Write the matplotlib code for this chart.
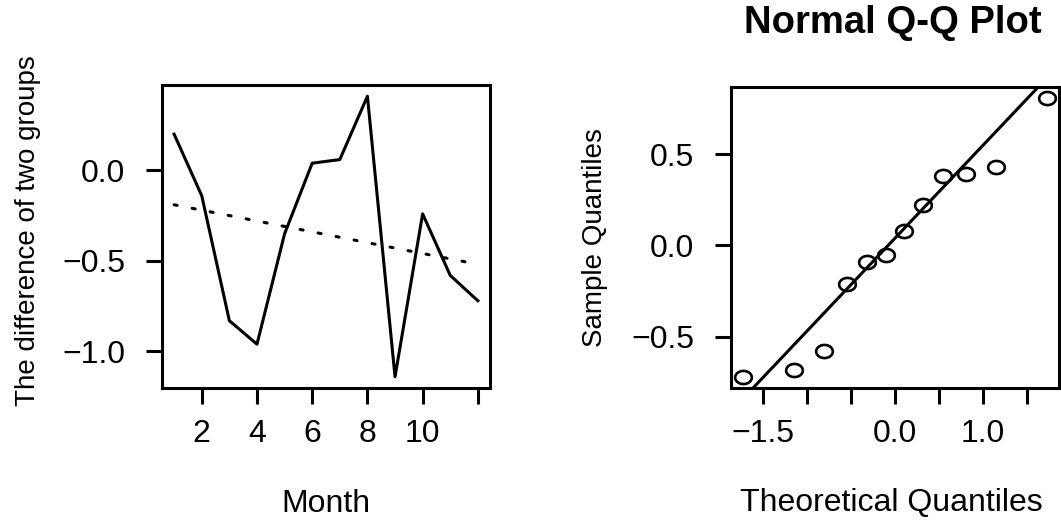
import numpy as np
import matplotlib
matplotlib.use("Agg")
import matplotlib.pyplot as plt
from matplotlib.path import Path
from statistics import NormalDist

plt.rcParams["font.family"] = ["Liberation Sans", "DejaVu Sans"]

# Monthly difference between the two groups
months = np.arange(1, 13)
difference = [0.20, -0.14, -0.83, -0.96, -0.35, 0.04, 0.06, 0.41, -1.14, -0.24, -0.58, -0.72]

# Normal Q-Q plot of the residuals from the linear trend
theoretical_q = [-1.73, -1.15, -0.81, -0.55, -0.32, -0.10, 0.10, 0.32, 0.55, 0.81, 1.15, 1.73]
sample_q = [-0.72, -0.68, -0.58, -0.21, -0.09, -0.05, 0.08, 0.22, 0.38, 0.39, 0.43, 0.81]

month_ticks = [2, 4, 6, 8, 10, 12]
month_labels = ["2", "4", "6", "8", "10", ""]
diff_ticks = [-1.0, -0.5, 0.0]
tq_ticks = [-1.5, -1.0, -0.5, 0.0, 0.5, 1.0, 1.5]
tq_labels = ["\u22121.5", "", "", "0.0", "", "1.0", ""]
sq_ticks = [-0.5, 0.0, 0.5]

W, H = 1061, 520
fig = plt.figure(figsize=(W / 100, H / 100), dpi=100)

LW = 2.2
FS = 23      # horizontal text
FS_V = 20    # rotated axis titles


def style(ax):
    for s in ax.spines.values():
        s.set_linewidth(LW)
    ax.tick_params(direction="out", length=11.5, width=LW, labelsize=FS)
    ax.tick_params(axis="x", pad=11)
    ax.tick_params(axis="y", pad=15)
    ax.margins(0.04)


# Left panel: series with fitted trend
ax1 = fig.add_axes([162 / W, (H - 388) / H, 328 / W, 303 / H])
ax1.plot(months, difference, color="black", lw=LW)
slope, intercept = np.polyfit(months, difference, 1)
ax1.plot([months[0], months[-1]], [intercept + slope * months[0], intercept + slope * months[-1]],
         color="black", lw=LW, linestyle=(0, (1, 5)), dash_capstyle="round")
style(ax1)
ax1.set_xticks(month_ticks)
ax1.set_xticklabels(month_labels)
ax1.set_yticks(diff_ticks)
ax1.set_yticklabels(["\u22121.0", "\u22120.5", "0.0"])
ax1.set_xlabel("Month", fontsize=FS, va="center")
ax1.xaxis.set_label_coords(0.5, -0.383)
ax1.set_ylabel("The difference of two groups", fontsize=FS_V, va="center")
ax1.yaxis.set_label_coords(-0.41, 0.52)

# Right panel: normal Q-Q plot
ax2 = fig.add_axes([731 / W, (H - 388) / H, 328 / W, 301.5 / H])
t = np.linspace(0, 2 * np.pi, 60)
ellipse = Path(np.column_stack([1.27 * np.cos(t), np.sin(t)]))
ax2.plot(theoretical_q, sample_q, linestyle="none", marker=ellipse, markersize=12,
         markerfacecolor="none", markeredgecolor="black", markeredgewidth=1.9)
q1, q3 = np.percentile(sample_q, [25, 75])
z = NormalDist().inv_cdf(0.75)
qq_slope = (q3 - q1) / (2 * z)
qq_int = q1 + z * qq_slope
ax2.axline((0, qq_int), slope=qq_slope, color="black", lw=LW)
style(ax2)
ax2.set_xticks(tq_ticks)
ax2.set_xticklabels(tq_labels)
ax2.set_yticks(sq_ticks)
ax2.set_yticklabels(["\u22120.5", "0.0", "0.5"])
ax2.set_xlabel("Theoretical Quantiles", fontsize=FS, va="center")
ax2.xaxis.set_label_coords(0.49, -0.383)
ax2.set_ylabel("Sample Quantiles", fontsize=FS_V, va="center")
ax2.yaxis.set_label_coords(-0.415, 0.5)
fig.text(893 / W, 1 - 23 / H, "Normal Q-Q Plot", ha="center", va="center",
         fontsize=27.5, fontweight="bold")

fig.savefig("out.png", dpi=100)
